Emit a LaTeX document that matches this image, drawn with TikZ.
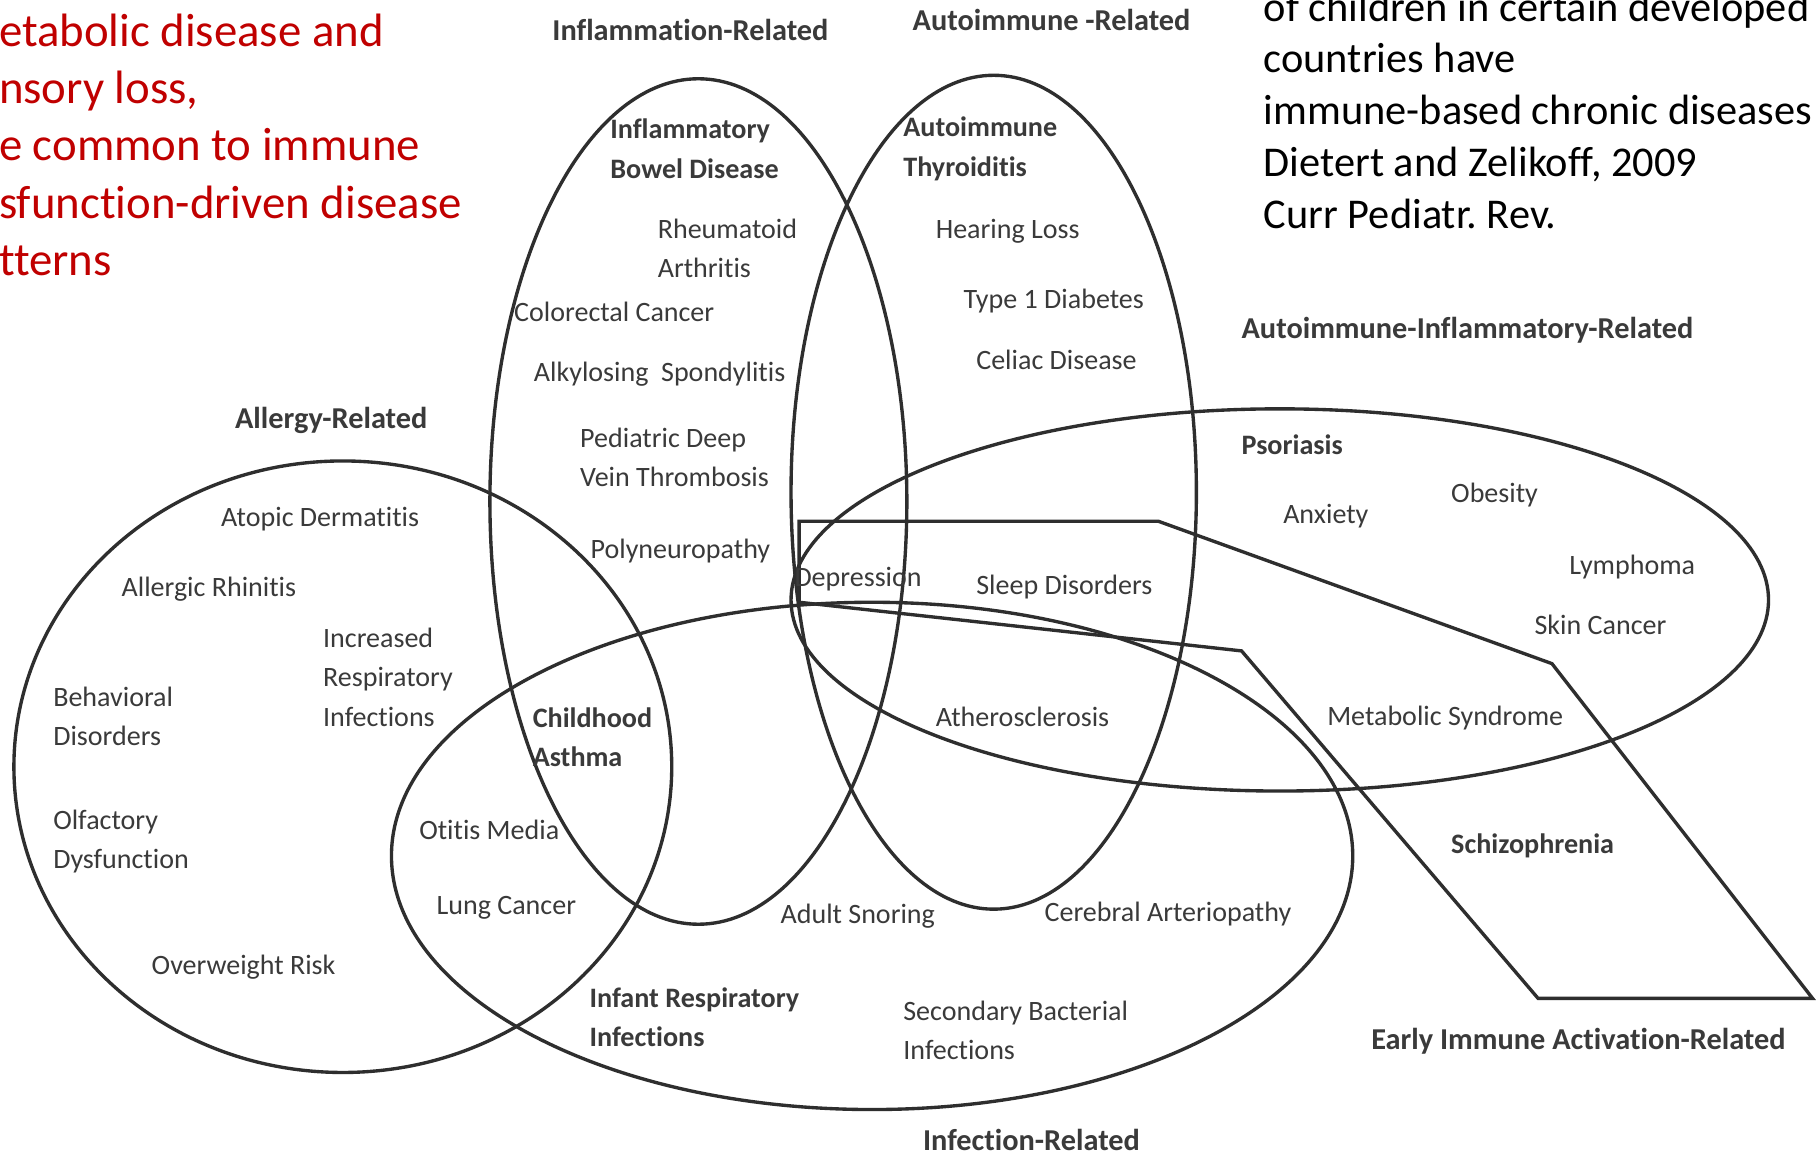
\documentclass[tikz,border=0pt]{standalone}
\usepackage{fontspec}
\setmainfont{Carlito}[Ligatures=NoCommon]
\definecolor{ink}{HTML}{3A3A3A}
\definecolor{linec}{HTML}{2E2E2E}
\definecolor{redtxt}{HTML}{C00000}
\frenchspacing
\begin{document}
\begin{tikzpicture}[x=1pt,y=-1pt,
  shapeline/.style={draw=linec, line width=2.9pt, line join=miter},
  item/.style={anchor=base west, inner sep=0pt, outer sep=0pt, text=ink, align=left,
    font=\fontsize{24.2}{34}\selectfont},
  bolditem/.style={item, font=\fontsize{24.3}{34}\selectfont\bfseries},
  titletext/.style={item, font=\fontsize{26.2}{34}\selectfont\bfseries},
  redtext/.style={anchor=base west, inner sep=0pt, text=redtxt, align=left,
    font=\fontsize{40.4}{49.5}\selectfont},
  notetext/.style={anchor=base west, inner sep=0pt, text=black, align=left,
    font=\fontsize{36.6}{44.7}\selectfont}]
\useasboundingbox (0,0) rectangle (1568,1002);
\clip (0,0) rectangle (1568,1002);
\fill[white] (0,0) rectangle (1568,1002);

% shapes
\draw[shapeline] (603,433) ellipse [x radius=180, y radius=365];
\draw[shapeline] (858,425) ellipse [x radius=175, y radius=360];
\draw[shapeline] (296,662) ellipse [x radius=284, y radius=264];
\draw[shapeline] (753,739) ellipse [x radius=415, y radius=219];
\draw[shapeline] (1105,518) ellipse [x radius=422, y radius=165];
\draw[shapeline] (690,450) -- (1000,450) -- (1340,573) -- (1565,862) -- (1328,862) -- (1072,562) -- (690,520) -- cycle;

% side texts (anchor at baseline of last line)
\node[redtext] (red) at (-1,238) {etabolic disease and\\nsory loss,\\e common to immune\\sfunction-driven disease\\tterns};
\node[notetext] (note) at (1091,197) {of children in certain developed\\countries have\\immune-based chronic diseases\\Dietert and Zelikoff, 2009\\Curr Pediatr. Rev.};

% titles
\node[titletext] (tinfl) at (477,35) {Inflammation-Related};
\node[titletext] (tauto) at (788,26) {Autoimmune -Related};
\node[titletext] (tautoinfl) at (1072,292) {Autoimmune-Inflammatory-Related};
\node[titletext] (tallergy) at (203,370) {Allergy-Related};
\node[titletext] (tearly) at (1184,906) {Early Immune Activation-Related};
\node[titletext] (tinfect) at (797,993) {Infection-Related};

% inflammation
\node[bolditem] (ibd) at (527,154) {Inflammatory\\Bowel Disease};
\node[item] (ra) at (568,240) {Rheumatoid\\Arthritis};
\node[item] (crc) at (444,278) {Colorectal Cancer};
\node[item] (as) at (461,329) {Alkylosing\ \ Spondylitis};
\node[item] (pdvt) at (501,420) {Pediatric Deep\\Vein Thrombosis};
\node[item] (poly) at (510,482) {Polyneuropathy};

% autoimmune
\node[bolditem] (at) at (780,152) {Autoimmune\\Thyroiditis};
\node[item] (hl) at (808,206) {Hearing Loss};
\node[item] (t1d) at (832,266) {Type 1 Diabetes};
\node[item] (cd) at (843,319) {Celiac Disease};

% autoimmune-inflammatory
\node[bolditem] (pso) at (1072,392) {Psoriasis};
\node[item] (anx) at (1108,452) {Anxiety};
\node[item] (obe) at (1253,434) {Obesity};
\node[item] (lym) at (1355,496) {Lymphoma};
\node[item] (skin) at (1325,548) {Skin Cancer};
\node[item] (mets) at (1146,626) {Metabolic Syndrome};
\node[bolditem] (schizo) at (1253,737) {Schizophrenia};
\node[item] (dep) at (686,506) {Depression};
\node[item] (sleep) at (843,513) {Sleep Disorders};
\node[item] (athero) at (808,627) {Atherosclerosis};

% allergy
\node[item] (atopic) at (191,455) {Atopic Dermatitis};
\node[item] (rhin) at (105,515) {Allergic Rhinitis};
\node[item] (iri) at (279,627) {Increased\\Respiratory\\Infections};
\node[item] (behav) at (46,644) {Behavioral\\Disorders};
\node[bolditem] (asthma) at (460,662) {Childhood\\Asthma};
\node[item] (olf) at (46,750) {Olfactory\\Dysfunction};
\node[item] (otitis) at (362,725) {Otitis Media};
\node[item] (lung) at (377,790) {Lung Cancer};
\node[item] (overw) at (131,841) {Overweight Risk};

% infection
\node[item] (snore) at (674,797) {Adult Snoring};
\node[item] (cereb) at (902,796) {Cerebral Arteriopathy};
\node[bolditem] (infresp) at (509,904) {Infant Respiratory\\Infections};
\node[item] (secbac) at (780,915) {Secondary Bacterial\\Infections};
\end{tikzpicture}
\end{document}
